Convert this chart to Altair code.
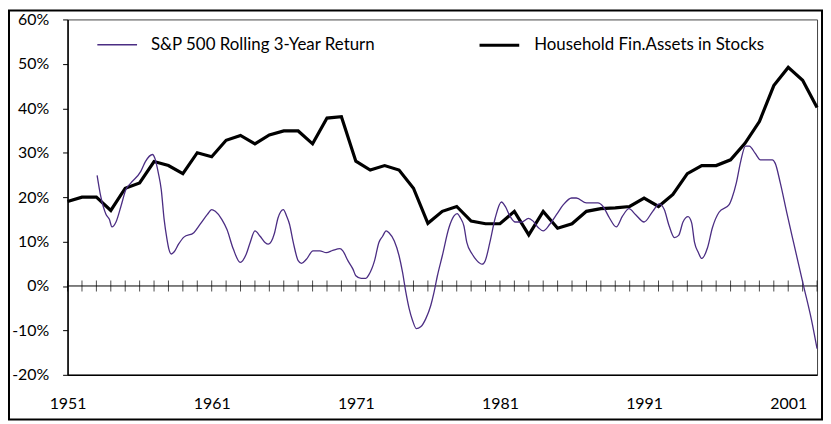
import altair as alt
import pandas as pd

SP_LABEL = "S&P 500 Rolling 3-Year Return"
HH_LABEL = "Household Fin.Assets in Stocks"

# Household financial assets in stocks (annual), %
hh_years = list(range(1951, 2004))
hh_values = [19.0, 20.0, 20.0, 17.0, 22.0, 23.2, 28.0, 27.1, 25.3, 30.0,
             29.1, 32.8, 33.9, 32.0, 34.0, 34.9, 34.9, 32.0, 37.8, 38.1,
             28.1, 26.1, 27.1, 26.1, 22.0, 14.1, 16.8, 17.9, 14.6, 14.0,
             14.0, 16.8, 11.5, 16.8, 13.0, 14.0, 16.8, 17.4, 17.6, 17.9,
             19.8, 17.9, 20.6, 25.3, 27.1, 27.1, 28.4, 32.1, 37.0, 45.1,
             49.2, 46.3, 40.2]

# S&P 500 rolling 3-year return, %
sp_time = [1953.05, 1953.3, 1953.67, 1953.9, 1954.08, 1954.36, 1954.7, 1955.05, 1955.4, 1956.08,
           1956.4, 1956.9, 1957.05, 1957.3, 1957.5, 1957.7, 1957.9, 1958.03, 1958.2, 1958.4,
           1958.7, 1959.07, 1959.76, 1960.2, 1960.7, 1961.0, 1961.25, 1961.7, 1962.06, 1962.5,
           1962.98, 1963.4, 1963.67, 1964.0, 1964.36, 1964.7, 1964.93, 1965.35, 1965.6, 1965.97,
           1966.2, 1966.4, 1966.66, 1967.0, 1967.23, 1967.57, 1968.03, 1968.5, 1968.95, 1969.4,
           1969.9, 1970.1, 1970.45, 1970.8, 1971.0, 1971.37, 1971.7, 1971.9, 1972.3, 1972.6,
           1972.86, 1973.1, 1973.3, 1973.67, 1974.0, 1974.24, 1974.47, 1974.7, 1974.93, 1975.2,
           1975.5, 1975.85, 1976.2, 1976.4, 1976.66, 1977.0, 1977.46, 1977.8, 1978.03, 1978.26,
           1978.5, 1978.7, 1979.07, 1979.4, 1979.76, 1979.98, 1980.3, 1980.67, 1981.1, 1981.37,
           1981.7, 1982.06, 1982.5, 1982.98, 1983.3, 1983.67, 1984.0, 1984.46, 1984.93, 1985.4,
           1985.97, 1986.3, 1987.0, 1987.8, 1988.15, 1988.6, 1989.07, 1989.5, 1989.95, 1990.4,
           1991.0, 1991.6, 1992.05, 1992.4, 1992.74, 1993.1, 1993.4, 1993.7, 1994.05, 1994.3,
           1994.5, 1994.77, 1995.0, 1995.4, 1995.74, 1996.2, 1996.9, 1997.1, 1997.4, 1997.7,
           1998.03, 1998.3, 1998.7, 1999.07, 1999.9, 2000.1, 2000.45, 2000.9, 2001.37, 2002.06,
           2002.6, 2003.0]
sp_values = [24.9, 20.2, 16.1, 15.0, 13.3, 14.4, 17.9, 21.7, 23.2, 25.8,
             28.0, 29.6, 28.8, 25.4, 21.7, 15.0, 10.5, 8.3, 7.2, 7.7,
             9.4, 11.0, 12.0, 13.9, 16.1, 17.2, 16.8, 15.0, 12.7, 8.3,
             5.3, 7.2, 9.8, 12.4, 11.2, 9.8, 9.4, 11.8, 15.3, 17.2,
             15.7, 13.9, 9.8, 5.7, 5.1, 6.0, 7.9, 7.9, 7.5, 8.0,
             8.4, 7.9, 5.7, 3.8, 2.3, 1.7, 1.7, 2.5, 5.7, 9.8,
             11.2, 12.4, 12.0, 10.1, 6.8, 3.1, -1.4, -5.1, -7.7, -9.6,
             -9.2, -7.4, -4.4, -1.8, 2.3, 6.8, 13.1, 15.7, 16.3, 15.3,
             13.5, 9.8, 7.2, 5.7, 4.9, 5.7, 9.8, 15.3, 18.9, 17.9,
             15.7, 14.4, 14.4, 15.2, 14.6, 13.1, 12.4, 13.9, 16.1, 18.3,
             19.8, 19.8, 18.7, 18.7, 17.9, 15.3, 13.3, 15.7, 17.4, 16.1,
             14.4, 16.8, 18.5, 17.2, 13.5, 10.9, 11.4, 14.4, 15.6, 14.2,
             9.8, 7.5, 6.2, 8.6, 13.1, 16.6, 18.3, 19.8, 23.2, 28.0,
             31.5, 31.5, 29.9, 28.4, 28.4, 27.6, 23.2, 16.5, 9.8, 0.1,
             -7.4, -14.1]

x_label_years = [1951, 1961, 1971, 1981, 1991, 2001]
y_ticks = [-20, -10, 0, 10, 20, 30, 40, 50, 60]
tick_years = list(range(1951, 2004))

FONT = "Lato"
W, H = 755, 358

hh_df = pd.DataFrame({"year": hh_years, "value": hh_values, "series": HH_LABEL})
sp_df = pd.DataFrame({"year": sp_time, "value": sp_values, "series": SP_LABEL})
tick_df = pd.DataFrame({"year": tick_years, "value": [0] * len(tick_years)})

x_scale = alt.Scale(domain=[1951, 2003], nice=False, zero=False)
y_scale = alt.Scale(domain=[-20, 60], nice=False)
series_domain = [SP_LABEL, HH_LABEL]

legend = alt.Legend(orient="none", legendX=29, legendY=4, direction="horizontal",
                    title=None, symbolType="stroke", symbolSize=1600,
                    labelFont=FONT, labelFontSize=17, labelColor="black",
                    labelOffset=13, columnPadding=97, padding=0, labelLimit=400)

color = alt.Color("series:N", scale=alt.Scale(domain=series_domain, range=["#4B2D83", "black"]),
                  legend=legend)
swidth = alt.StrokeWidth("series:N", scale=alt.Scale(domain=series_domain, range=[1.3, 3.2]),
                         legend=legend)

x_enc = alt.X("year:Q", scale=x_scale,
              axis=alt.Axis(values=x_label_years, format="d", title=None, ticks=False,
                            grid=False, labelFont=FONT, labelFontSize=16, labelPadding=21,
                            labelFlush=False, labelColor="black", domainColor="black",
                            domainWidth=1.5))
y_enc = alt.Y("value:Q", scale=y_scale,
              axis=alt.Axis(values=y_ticks, labelExpr="datum.value + '%'", title=None,
                            grid=False, tickSize=5, tickColor="black", labelFont=FONT,
                            labelFontSize=16, labelPadding=14, labelColor="black",
                            domainColor="black", domainWidth=1.5))

zero_rule = alt.Chart(tick_df).mark_rule(color="black", strokeWidth=1).encode(
    x=alt.X("min(year):Q", scale=x_scale), x2="max(year):Q",
    y=alt.Y("mean(value):Q", scale=y_scale))

ticks = alt.Chart(tick_df).mark_tick(orient="vertical", size=11, thickness=1, color="black").encode(
    x=alt.X("year:Q", scale=x_scale), y=alt.Y("value:Q", scale=y_scale))

hh_line = alt.Chart(hh_df).mark_line(strokeJoin="miter").encode(
    x=x_enc, y=y_enc, color=color, strokeWidth=swidth)

sp_line = alt.Chart(sp_df).mark_line(interpolate="monotone").encode(
    x=alt.X("year:Q", scale=x_scale), y=alt.Y("value:Q", scale=y_scale),
    color=color, strokeWidth=swidth)

frame = alt.Chart(pd.DataFrame({"a": [0]})).mark_rect(
    fill=None, stroke="black", strokeWidth=2).encode(
    x=alt.value(-59), x2=alt.value(W + 5), y=alt.value(-9), y2=alt.value(H + 45))

chart = alt.layer(zero_rule, ticks, hh_line, sp_line, frame).properties(
    width=W, height=H,
    autosize=alt.AutoSizeParams(type="none"),
    padding={"left": 60, "top": 10, "right": 6, "bottom": 46},
    background="white",
).configure_view(stroke="#444", strokeWidth=1)

chart.save("out.html", embed_options={"renderer": "svg", "actions": False})
